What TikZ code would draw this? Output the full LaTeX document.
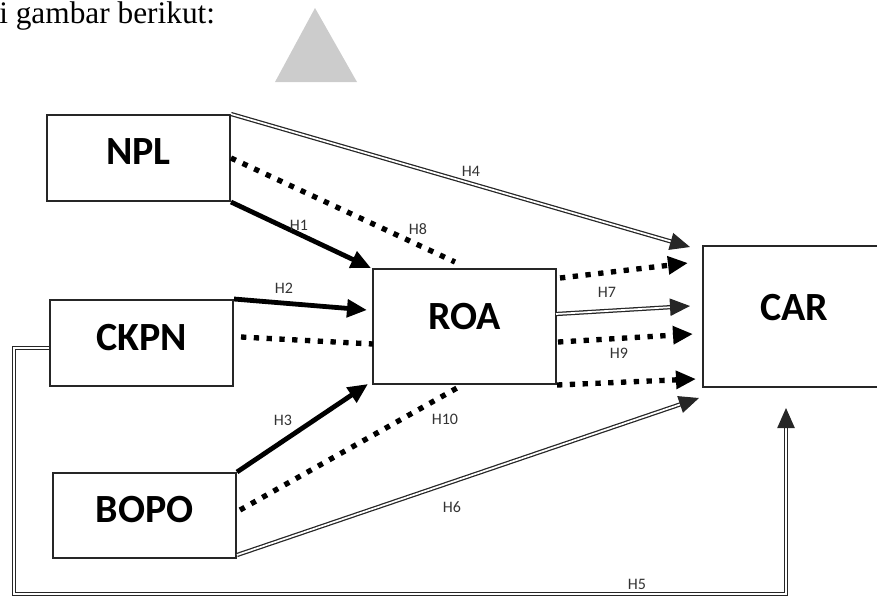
\documentclass[tikz,border=0pt]{standalone}
\usepackage{fontspec}
\setmainfont{Liberation Serif}
\newfontfamily\calfont{Carlito}
\usetikzlibrary{arrows.meta}
\tikzset{
    var/.style={draw=black!85, line width=1.5pt, minimum width=137.25pt,
    	minimum height=64.5pt, inner sep=0pt, text depth=9pt,
    	font=\calfont\bfseries\fontsize{30}{32}\selectfont}
}
\tikzset{
    hyp/.style={inner sep=0pt, text=black!80,
    	font=\calfont\fontsize{12}{13}\selectfont}
}
\tikzset{
    solidarrow/.style={line width=3.6pt, -{Triangle[length=15pt,width=13pt]}},
    dotline/.style={line width=4pt, dash pattern=on 4pt off 5.6pt},
    dotarrow/.style={dotline, -{Triangle[length=15pt,width=13pt]}},
    dblarrow/.style={double, double distance=1.3pt, line width=0.95pt,
    	draw=black!85, -{Triangle[length=15pt,width=13pt]}}
}

\begin{document}
\begin{tikzpicture}[x=0.75pt, y=-0.75pt]
	\useasboundingbox (0,0) rectangle (877,601);
	\node (intro) [anchor=base west, inner sep=0pt,
		font=\fontsize{23.5}{25}\selectfont] at (-1,23) {i gambar berikut:};
	\fill[black!20] (275,82) -- (315,8) -- (357,82) -- cycle;

	\node (npl) [var] at (138.5,158) {NPL};
	\node (ckpn) [var] at (141.5,343) {CKPN};
	\node (bopo) [var, minimum height=63.75pt] at (144.5,515.5) {BOPO};
	\node (roa) [var, minimum height=86.25pt, text depth=15pt] at (464.5,326.5) {ROA};
	\node (car) [var, minimum width=136.5pt, minimum height=105.75pt,
		text depth=13pt] at (794,316.5) {CAR};

	\coordinate (t1) at (371,268);
	\coordinate (t2) at (367,310);
	\coordinate (t3) at (368,384);
	\coordinate (t4) at (690,247);
	\coordinate (t5) at (786,408);
	\coordinate (t6) at (699,398);
	\coordinate (e8) at (455,262);
	\coordinate (sc) at (241,337);
	\coordinate (ec) at (373,344);
	\coordinate (s10) at (240,510);
	\coordinate (e10) at (457,388);
	\coordinate (s7a) at (560,278); \coordinate (t7a) at (688,263);
	\coordinate (s7) at (556,314); \coordinate (t7) at (690,306);
	\coordinate (s9) at (558,342); \coordinate (t9) at (693,334);
	\coordinate (t9b) at (696,379);

	\draw (npl.north east) edge[dblarrow] (t4);
	\draw (npl.east) edge[dotline] (e8);
	\draw (npl.south east) edge[solidarrow] (t1);
	\draw (ckpn.north east) edge[solidarrow] (t2);
	\draw (sc) edge[dotline] (ec);
	\draw (bopo.north east) edge[solidarrow] (t3);
	\draw (s10) edge[dotline] (e10);
	\draw ([yshift=3pt]bopo.south east) edge[dblarrow] (t6);
	\draw (s7a) edge[dotarrow] (t7a);
	\draw (s7) edge[dblarrow] (t7);
	\draw (s9) edge[dotarrow] (t9);
	\draw (roa.south east) edge[dotarrow] (t9b);
	\draw[dblarrow] ([yshift=-3.75pt]ckpn.west) -| (14,594) -| (t5);

	\node (h1) [hyp] at (299,225) {H1};
	\node (h2) [hyp] at (284,288) {H2};
	\node (h3) [hyp] at (283,420) {H3};
	\node (h4) [hyp] at (471,171) {H4};
	\node (h5) [hyp] at (637,584) {H5};
	\node (h6) [hyp] at (452,507) {H6};
	\node (h7) [hyp] at (607,292) {H7};
	\node (h8) [hyp] at (418,229) {H8};
	\node (h9) [hyp] at (619,353) {H9};
	\node (h10) [hyp] at (445,419) {H10};
\end{tikzpicture}
\end{document}
